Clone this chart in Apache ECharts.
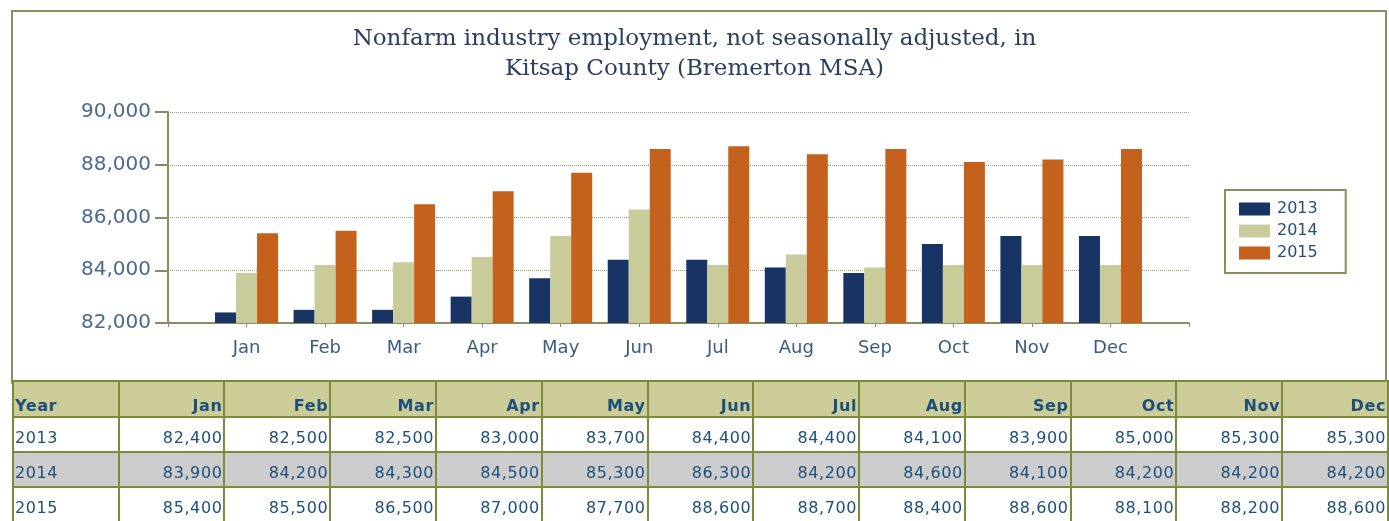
<!DOCTYPE html>
<html>
<head>
<meta charset="utf-8">
<script src="https://cdn.jsdelivr.net/npm/echarts@6/dist/echarts.min.js"></script>
<style>
  html, body { margin: 0; padding: 0; width: 1389px; height: 521px; overflow: hidden; background: #ffffff; }
  #frame { position: absolute; left: 11px; top: 10px; width: 1372px; height: 370px; border: 2px solid #8c8c62; box-sizing: content-box; }
  #chart { position: absolute; left: 0; top: 0; width: 1389px; height: 521px; }
  #tbl { position: absolute; left: 12px; top: 380px; border-collapse: collapse; table-layout: fixed; font-family: "DejaVu Sans", Verdana, sans-serif; font-size: 16px; color: #1d4f7c; }
  #tbl td, #tbl th { border: 2px solid #7c8a3a; width: 102px; padding: 0 1px 0 1px; text-align: right; letter-spacing: 0.6px; white-space: nowrap; overflow: hidden; }
  #tbl th { background: #cccc99; height: 33px; vertical-align: bottom; font-weight: bold; padding-bottom: 1px; }
  #tbl td { height: 27px; vertical-align: middle; padding-top: 6px; }
  #tbl .first { text-align: left; }
  #tbl tr.alt td { background: #cccccc; }
</style>
</head>
<body>
<div id="frame"></div>
<div id="chart"></div>
<table id="tbl"></table>
<script>
const title = "Nonfarm industry employment, not seasonally adjusted, in\nKitsap County (Bremerton MSA)";
const months = ["Jan","Feb","Mar","Apr","May","Jun","Jul","Aug","Sep","Oct","Nov","Dec"];
const years = ["2013","2014","2015"];
const v2013 = [82400,82500,82500,83000,83700,84400,84400,84100,83900,85000,85300,85300];
const v2014 = [83900,84200,84300,84500,85300,86300,84200,84600,84100,84200,84200,84200];
const v2015 = [85400,85500,86500,87000,87700,88600,88700,88400,88600,88100,88200,88600];
const colors = ["#173465", "#c9cb9b", "#c4621d"];
const yTicks = { min: 82000, max: 90000, interval: 2000 };

const seriesValues = [v2013, v2014, v2015];
const fmt = n => n.toLocaleString("en-US");

const chart = echarts.init(document.getElementById("chart"), null, { renderer: "canvas" });
const xData = [""].concat(months, [""]);
chart.setOption({
  animation: false,
  backgroundColor: "transparent",
  title: {
    text: title,
    left: "center",
    top: 19,
    textStyle: { fontFamily: "DejaVu Serif", fontSize: 23, fontWeight: "normal", color: "#2a3e60", lineHeight: 30 }
  },
  legend: {
    orient: "vertical",
    left: 1225,
    top: 190,
    padding: [11, 14, 12, 14],
    itemWidth: 31,
    itemHeight: 13,
    itemGap: 6,
    borderColor: "#8c8c62",
    borderWidth: 2,
    backgroundColor: "#ffffff",
    icon: "rect",
    textStyle: { fontFamily: "DejaVu Sans", fontSize: 16, color: "#2a4d78", lineHeight: 16, padding: [0, 14, 0, 2] },
    data: years
  },
  grid: { left: 168, right: 200, top: 112, bottom: 198, containLabel: false },
  xAxis: {
    type: "category",
    data: xData,
    boundaryGap: false,
    axisLine: { lineStyle: { color: "#8c8c62", width: 2 } },
    axisTick: { show: true, length: 4, lineStyle: { color: "#8c8c62", width: 1 } },
    axisLabel: { fontFamily: "DejaVu Sans", fontSize: 18, color: "#3b5b80", margin: 16 },
    splitLine: { show: false }
  },
  yAxis: {
    type: "value",
    min: yTicks.min,
    max: yTicks.max,
    interval: yTicks.interval,
    axisLine: { show: true, lineStyle: { color: "#8c8c62", width: 2 } },
    axisTick: { show: true, length: 13, lineStyle: { color: "#8c8c62", width: 2 } },
    axisLabel: { fontFamily: "DejaVu Sans", fontSize: 20, color: "#4d6a8e", margin: 17, formatter: v => fmt(v) },
    splitLine: { show: true, lineStyle: { color: "#9a9a78", type: [1, 1], width: 1 } }
  },
  series: years.map((y, i) => ({
    name: y,
    type: "bar",
    data: [null].concat(seriesValues[i], [null]),
    barWidth: 21,
    barGap: "0%",
    itemStyle: { color: colors[i] }
  }))
});

// Data table built from the same arrays
const tbl = document.getElementById("tbl");
let html = "<tr><th class='first'>Year</th>" + months.map(m => "<th>" + m + "</th>").join("") + "</tr>";
years.forEach((y, i) => {
  html += "<tr" + (i === 1 ? " class='alt'" : "") + "><td class='first'>" + y + "</td>" +
    seriesValues[i].map(v => "<td>" + fmt(v) + "</td>").join("") + "</tr>";
});
tbl.innerHTML = html;
</script>
</body>
</html>
